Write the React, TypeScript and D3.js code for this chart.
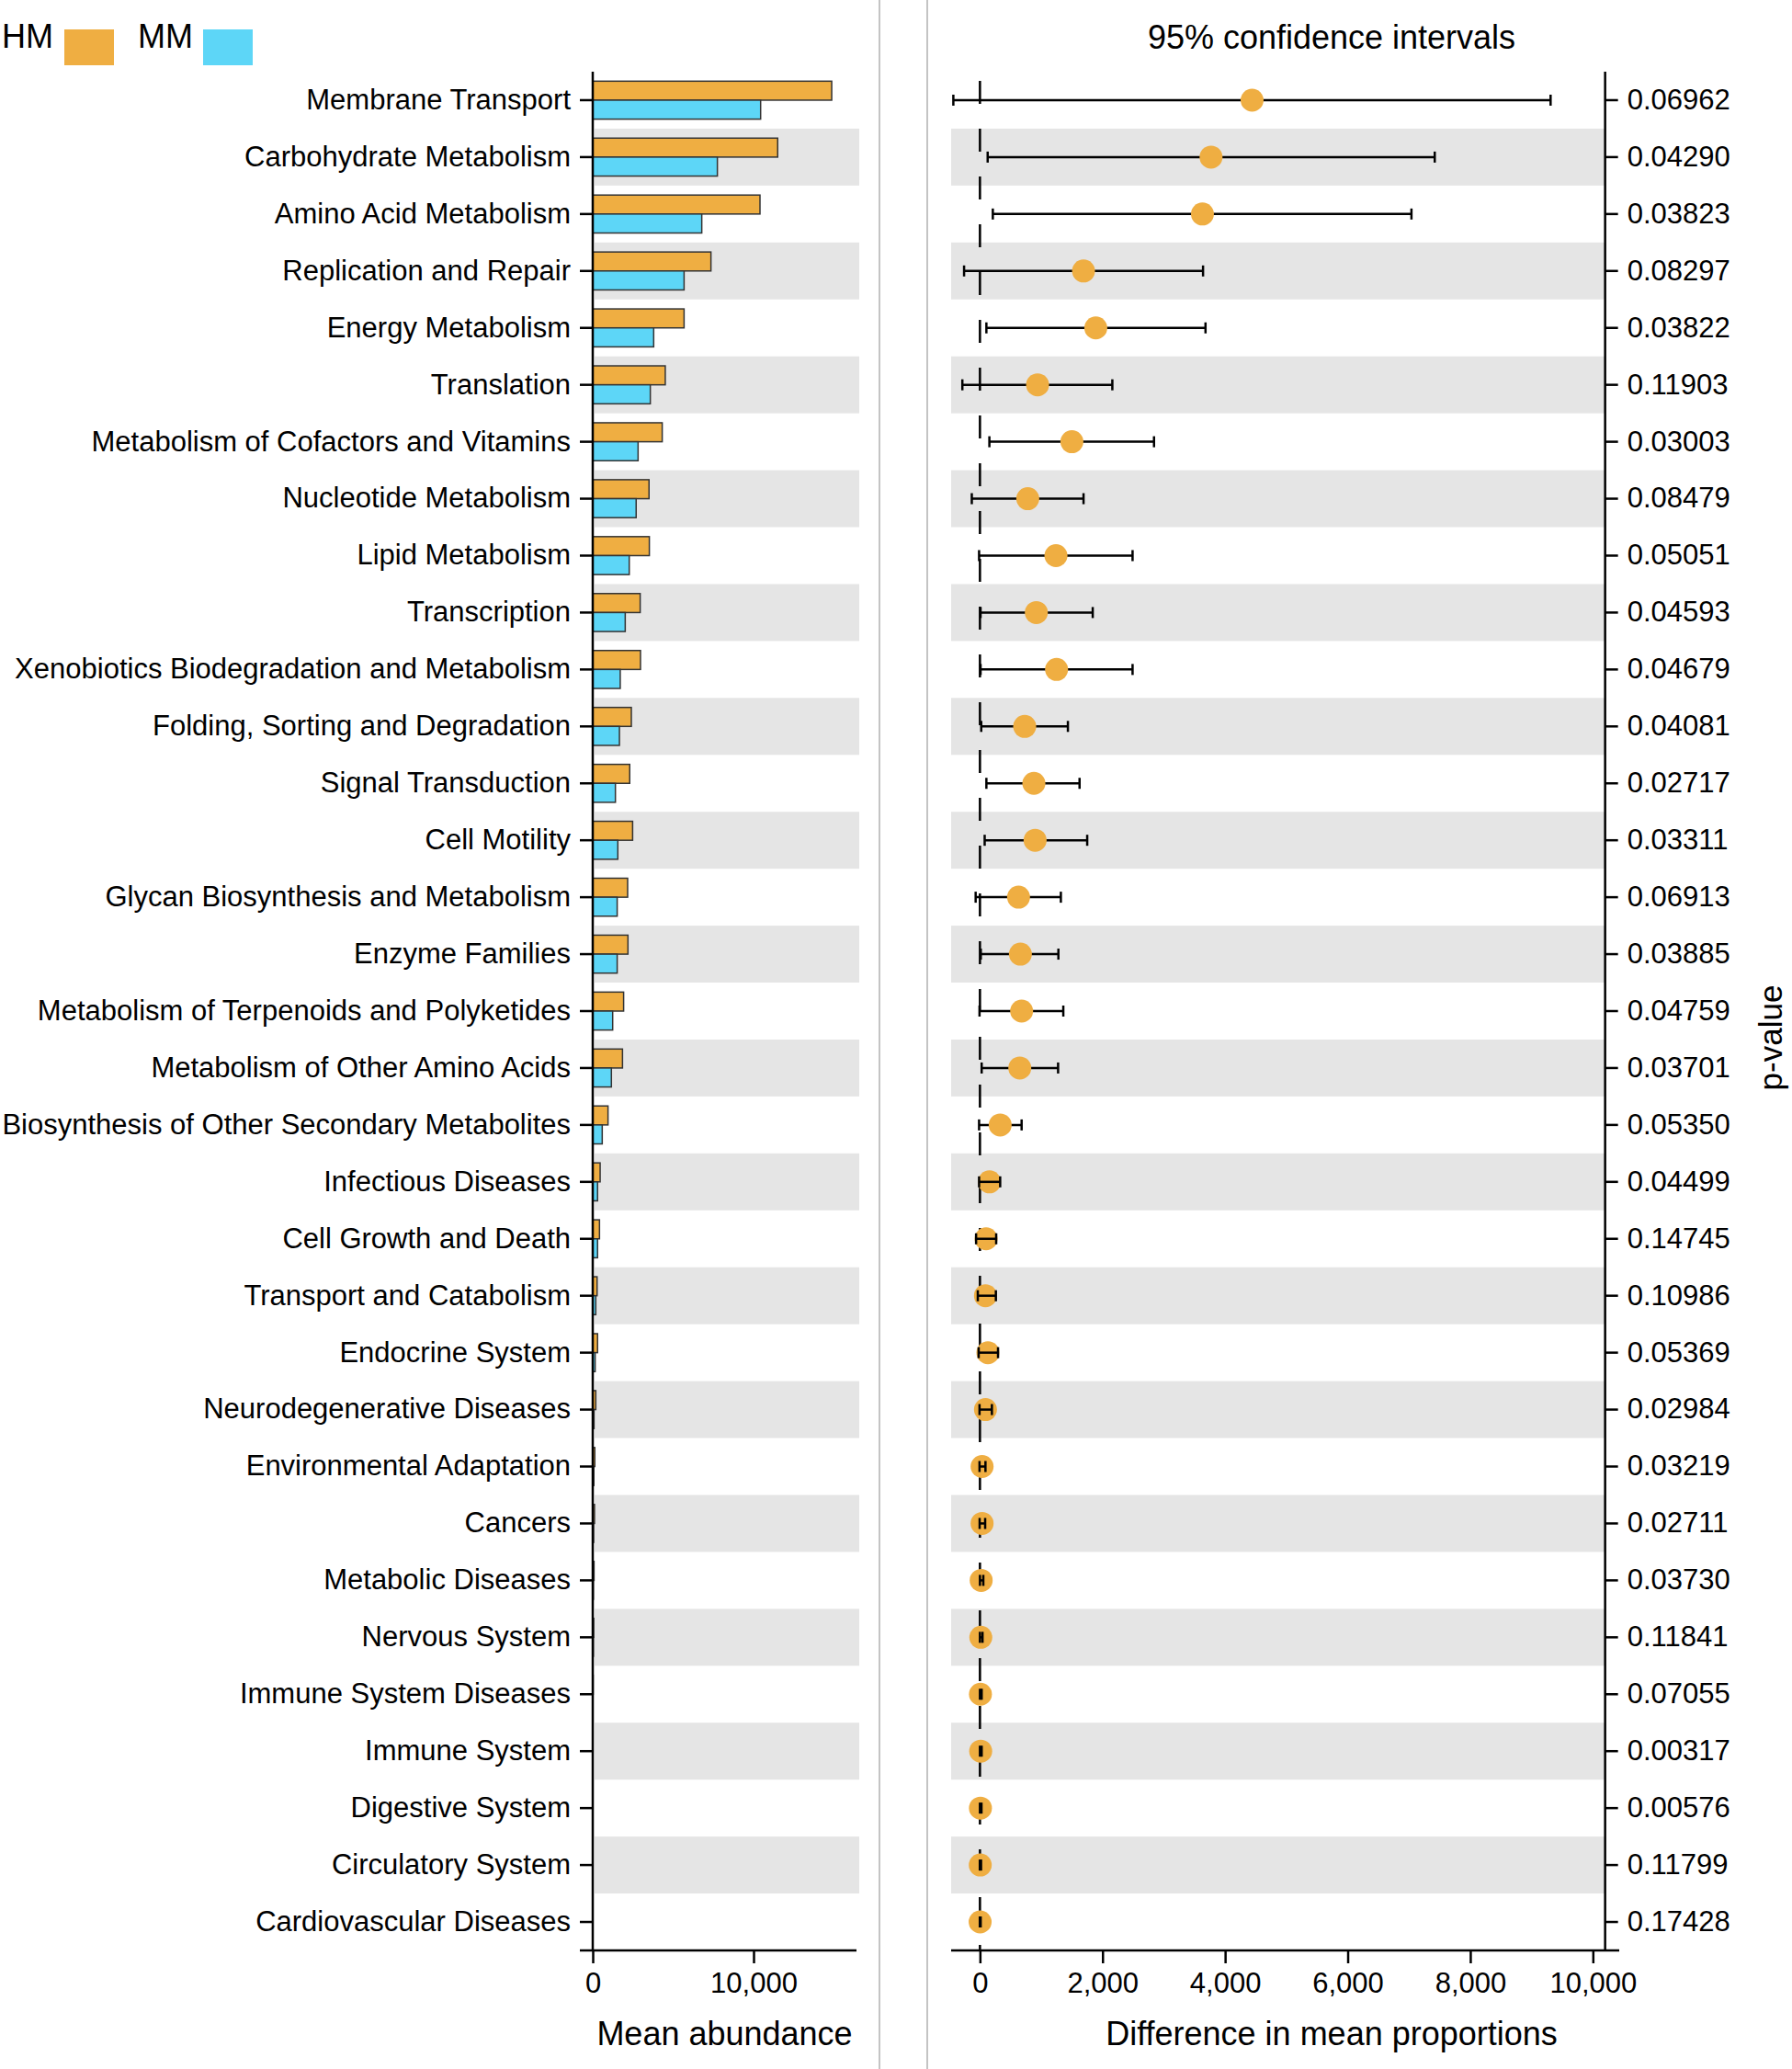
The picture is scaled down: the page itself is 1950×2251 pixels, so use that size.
import React, { useEffect, useRef } from 'react';
import * as d3 from 'd3';

// KEGG level-2 pathways, top to bottom
const categories = [
  'Membrane Transport',
  'Carbohydrate Metabolism',
  'Amino Acid Metabolism',
  'Replication and Repair',
  'Energy Metabolism',
  'Translation',
  'Metabolism of Cofactors and Vitamins',
  'Nucleotide Metabolism',
  'Lipid Metabolism',
  'Transcription',
  'Xenobiotics Biodegradation and Metabolism',
  'Folding, Sorting and Degradation',
  'Signal Transduction',
  'Cell Motility',
  'Glycan Biosynthesis and Metabolism',
  'Enzyme Families',
  'Metabolism of Terpenoids and Polyketides',
  'Metabolism of Other Amino Acids',
  'Biosynthesis of Other Secondary Metabolites',
  'Infectious Diseases',
  'Cell Growth and Death',
  'Transport and Catabolism',
  'Endocrine System',
  'Neurodegenerative Diseases',
  'Environmental Adaptation',
  'Cancers',
  'Metabolic Diseases',
  'Nervous System',
  'Immune System Diseases',
  'Immune System',
  'Digestive System',
  'Circulatory System',
  'Cardiovascular Diseases',
];

// mean abundance per group
const hmMean = [14860, 11500, 10400, 7350, 5680, 4510, 4320, 3500, 3520, 2950, 2970, 2400, 2300, 2480, 2170, 2190, 1920, 1850, 950, 460, 420, 270, 300, 190, 130, 110, 80, 60, 25, 15, 12, 10, 8];
const mmMean = [10440, 7750, 6780, 5680, 3790, 3580, 2820, 2700, 2270, 2020, 1710, 1660, 1410, 1560, 1520, 1520, 1240, 1160, 590, 300, 300, 190, 150, 80, 70, 55, 40, 40, 12, 8, 6, 5, 4];

// difference in mean proportions with 95% CI
const diffMean = [4440, 3770, 3630, 1690, 1890, 940, 1500, 780, 1240, 920, 1250, 730, 880, 900, 630, 660, 680, 650, 330, 155, 100, 90, 130, 90, 35, 35, 20, 14, 8, 12, 8, 5, 3];
const ciLow = [-434, 126, 210, -259, 105, -287, 154, -133, -14, 10, 10, 21, 105, 77, -70, 14, -7, 28, -14, -14, -63, -35, -21, -7, -7, -5, 0, 0, 0, 0, 0, -2, -2];
const ciHigh = [9310, 7420, 7040, 3640, 3680, 2160, 2840, 1690, 2490, 1840, 2490, 1435, 1625, 1750, 1320, 1280, 1360, 1275, 680, 330, 265, 260, 295, 195, 90, 85, 55, 42, 28, 28, 25, 18, 12];

const pValues = ['0.06962', '0.04290', '0.03823', '0.08297', '0.03822', '0.11903', '0.03003', '0.08479', '0.05051', '0.04593', '0.04679', '0.04081', '0.02717', '0.03311', '0.06913', '0.03885', '0.04759', '0.03701', '0.05350', '0.04499', '0.14745', '0.10986', '0.05369', '0.02984', '0.03219', '0.02711', '0.03730', '0.11841', '0.07055', '0.00317', '0.00576', '0.11799', '0.17428'];

const groups = ['HM', 'MM'];
const HM_COLOR = '#EFAE42';
const MM_COLOR = '#5DD6F7';
const BAND_COLOR = '#E5E5E5';
const FONT = '"Liberation Sans", Arial, Helvetica, sans-serif';

const App: React.FC = () => {
  const ref = useRef<SVGSVGElement>(null);

  useEffect(() => {
    const svg = d3.select(ref.current);
    svg.selectAll('*').remove();

    const W = 1950;
    const H = 2251;
    const top = 78;
    const bottom = 2122;

    const y = d3.scaleBand<string>().domain(categories).range([top, bottom]);
    const sub = d3.scaleBand<string>().domain(groups).range([0, y.bandwidth()]).paddingOuter(0.5);
    const xBar = d3.scaleLinear().domain([0, 16400]).range([645, 932]);
    const xCI = d3.scaleLinear().domain([-470, 10430]).range([1035, 1762]);
    const rightAxisX = xCI(10200);
    const color = d3.scaleOrdinal<string, string>().domain(groups).range([HM_COLOR, MM_COLOR]);

    svg.append('rect').attr('width', W).attr('height', H).attr('fill', '#fff');

    // panel dividers
    [957, 1009].forEach(x => {
      svg.append('line')
        .attr('x1', x).attr('x2', x).attr('y1', 0).attr('y2', H)
        .attr('stroke', '#c4c4c4').attr('stroke-width', 2);
    });

    // legend
    const legend = svg.append('g').attr('font-family', FONT).attr('font-size', 36);
    legend.append('text').attr('x', 2).attr('y', 52).text('HM');
    legend.append('rect').attr('x', 70).attr('y', 32).attr('width', 54).attr('height', 39).attr('fill', HM_COLOR);
    legend.append('text').attr('x', 150).attr('y', 52).text('MM');
    legend.append('rect').attr('x', 221).attr('y', 32).attr('width', 54).attr('height', 39).attr('fill', MM_COLOR);

    svg.append('text')
      .attr('x', 1449).attr('y', 53)
      .attr('text-anchor', 'middle')
      .attr('font-family', FONT).attr('font-size', 36)
      .text('95% confidence intervals');

    // alternating row bands
    const odd = categories.filter((_, i) => i % 2 === 1);
    svg.append('g').selectAll('rect').data(odd).join('rect')
      .attr('x', 647).attr('width', 935 - 647)
      .attr('y', d => y(d)!).attr('height', y.bandwidth())
      .attr('fill', BAND_COLOR);
    svg.append('g').selectAll('rect').data(odd).join('rect')
      .attr('x', xCI.range()[0]).attr('width', rightAxisX - xCI.range()[0])
      .attr('y', d => y(d)!).attr('height', y.bandwidth())
      .attr('fill', BAND_COLOR);

    // bars
    const barData = categories.flatMap((c, i) => [
      { cat: c, grp: 'HM', v: hmMean[i] },
      { cat: c, grp: 'MM', v: mmMean[i] },
    ]);
    svg.append('g').selectAll('rect').data(barData).join('rect')
      .attr('x', xBar(0))
      .attr('y', d => y(d.cat)! + sub(d.grp)!)
      .attr('width', d => xBar(d.v) - xBar(0))
      .attr('height', sub.bandwidth())
      .attr('fill', d => color(d.grp))
      .attr('stroke', '#333')
      .attr('stroke-width', 1.5);

    // zero reference line
    svg.append('line')
      .attr('x1', xCI(0)).attr('x2', xCI(0)).attr('y1', top).attr('y2', bottom)
      .attr('stroke', '#000').attr('stroke-width', 2.5)
      .attr('stroke-dasharray', '25 27').attr('stroke-dashoffset', 42);

    // error bars and points
    const r = 12.5;
    const ci = svg.append('g');
    categories.forEach((c, i) => {
      const cy = y(c)! + y.bandwidth() / 2;
      const x0 = xCI(ciLow[i]);
      const x1 = xCI(ciHigh[i]);
      ci.append('line').attr('x1', x0).attr('x2', x1).attr('y1', cy).attr('y2', cy)
        .attr('stroke', '#000').attr('stroke-width', 2.5);
      ci.append('circle').attr('cx', xCI(diffMean[i])).attr('cy', cy).attr('r', r).attr('fill', HM_COLOR);
      if (x1 - x0 < 2.2 * r) {
        ci.append('line').attr('x1', x0).attr('x2', x1).attr('y1', cy).attr('y2', cy)
          .attr('stroke', '#000').attr('stroke-width', 2.5);
      }
      [x0, x1].forEach(x => {
        ci.append('line').attr('x1', x).attr('x2', x).attr('y1', cy - 6).attr('y2', cy + 6)
          .attr('stroke', '#000').attr('stroke-width', 2.5);
      });
    });

    const styleAxis = (g: d3.Selection<SVGGElement, unknown, null, undefined>) => {
      g.select('.domain').remove();
      g.selectAll('line').attr('stroke', '#000').attr('stroke-width', 2.5);
      g.selectAll('text').attr('font-family', FONT).attr('font-size', 31).attr('fill', '#000');
    };

    // left panel axes
    svg.append('g')
      .attr('transform', `translate(${xBar(0)},0)`)
      .call(d3.axisLeft(y).tickSize(14).tickPadding(10))
      .call(styleAxis);
    svg.append('g')
      .attr('transform', `translate(0,${bottom})`)
      .call(d3.axisBottom(xBar).tickValues([0, 10000]).tickFormat(d3.format(',')).tickSize(14).tickPadding(10))
      .call(styleAxis);
    svg.append('line').attr('x1', xBar(0)).attr('x2', xBar(0)).attr('y1', top).attr('y2', bottom)
      .attr('stroke', '#000').attr('stroke-width', 2.5);
    svg.append('line').attr('x1', xBar(0) - 14).attr('x2', xBar.range()[1]).attr('y1', bottom).attr('y2', bottom)
      .attr('stroke', '#000').attr('stroke-width', 2.5);

    // right panel axes
    svg.append('g')
      .attr('transform', `translate(0,${bottom})`)
      .call(d3.axisBottom(xCI).tickValues(d3.range(0, 10001, 2000)).tickFormat(d3.format(',')).tickSize(14).tickPadding(10))
      .call(styleAxis);
    svg.append('g')
      .attr('transform', `translate(${rightAxisX},0)`)
      .call(d3.axisRight(y).tickSize(14).tickPadding(10).tickFormat((_, i) => pValues[i]))
      .call(styleAxis);
    svg.append('line').attr('x1', rightAxisX).attr('x2', rightAxisX).attr('y1', top).attr('y2', bottom)
      .attr('stroke', '#000').attr('stroke-width', 2.5);
    svg.append('line').attr('x1', xCI.range()[0]).attr('x2', xCI.range()[1]).attr('y1', bottom).attr('y2', bottom)
      .attr('stroke', '#000').attr('stroke-width', 2.5);

    // axis titles
    const titles = svg.append('g').attr('font-family', FONT).attr('font-size', 36).attr('text-anchor', 'middle');
    titles.append('text').attr('x', (xBar.range()[0] + xBar.range()[1]) / 2).attr('y', 2225).text('Mean abundance');
    titles.append('text').attr('x', 1449).attr('y', 2225).text('Difference in mean proportions');
    titles.append('text')
      .attr('transform', 'translate(1939,1129) rotate(-90)')
      .attr('font-size', 35)
      .text('p-value');
  }, []);

  return (
    <svg
      ref={ref}
      width={1950}
      height={2251}
      style={{ position: 'absolute', left: 0, top: 0, display: 'block' }}
    />
  );
};

export default App;
